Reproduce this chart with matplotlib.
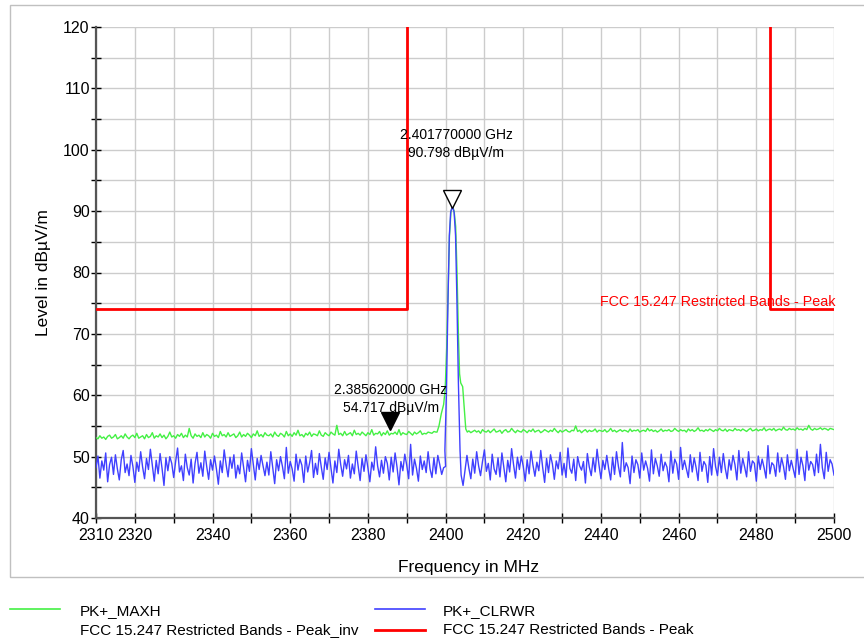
import numpy as np
import matplotlib
matplotlib.use("Agg")
import matplotlib.pyplot as plt
from matplotlib.lines import Line2D
from matplotlib.patches import Rectangle
from matplotlib import transforms

plt.rcParams['font.family'] = ['Liberation Sans', 'DejaVu Sans']

# ---- data ----
# PK+_CLRWR (blue) noise below the carrier, 2310 .. 2399.5 MHz, 0.5 MHz step
clrwr_left = [
    48.2, 50.1, 46.5, 49.3, 47.8, 50.6, 45.9, 48.7, 49.9, 47.1,
    50.3, 48.0, 46.2, 49.5, 51.0, 47.4, 48.8, 46.9, 50.2, 48.4,
    45.8, 49.1, 47.6, 50.8, 48.3, 46.4, 49.7, 47.9, 51.2, 48.6,
    46.0, 49.4, 47.2, 50.5, 48.1, 45.3, 49.8, 47.7, 50.0, 48.9,
    46.6, 49.2, 51.4, 47.5, 48.5, 46.1, 50.4, 48.2, 47.0, 49.6,
    45.7, 48.9, 50.7, 47.3, 49.0, 46.8, 50.9, 48.4, 46.3, 49.5,
    47.8, 50.1, 48.0, 45.5, 49.3, 47.4, 51.1, 48.7, 46.7, 49.9,
    48.1, 50.3, 46.5, 48.6, 47.2, 50.6, 48.3, 45.9, 49.4, 47.6,
    51.3, 48.8, 46.2, 49.7, 47.9, 50.2, 48.5, 46.9, 49.1, 47.0,
    50.8, 48.2, 45.6, 49.5, 47.7, 50.0, 48.4, 46.4, 51.5, 47.3,
    49.2, 48.0, 46.0, 50.4, 47.8, 49.6, 48.6, 45.8, 50.1, 47.5,
    49.0, 51.0, 46.6, 48.9, 47.1, 50.5, 48.3, 46.3, 49.8, 47.9,
    50.7, 48.1, 45.7, 49.3, 47.4, 51.2, 48.7, 46.8, 49.5, 48.0,
    50.2, 46.5, 48.8, 47.2, 50.9, 48.4, 46.1, 49.7, 47.6, 50.3,
    48.2, 45.9, 49.1, 47.8, 51.6, 48.5, 46.7, 49.4, 47.3, 50.0,
    48.9, 46.2, 49.9, 47.5, 50.6, 48.3, 45.4, 49.2, 47.7, 50.4,
    48.6, 46.4, 52.0, 47.0, 49.6, 48.1, 46.0, 50.1, 47.9, 49.3,
    47.4, 50.8, 48.0, 46.6, 49.8, 47.2, 50.2, 48.7, 47.1, 48.2,
    48.4,
]
# carrier of the blue trace
clrwr_peak_freq = [2399.82, 2400.2, 2400.62, 2400.97, 2401.3, 2401.77,
                   2402.2, 2402.57, 2402.92, 2403.3, 2403.72, 2404.0]
clrwr_peak_level = [51.0, 60.0, 75.5, 86.0, 89.8, 90.8,
                    89.8, 86.0, 75.5, 62.0, 51.0, 47.0]
# blue noise above the carrier, 2404.5 .. 2500 MHz, 0.5 MHz step
clrwr_right = [
    45.3, 47.8, 50.2, 48.1, 46.4, 49.6, 47.3, 50.8, 48.5, 46.9,
    49.2, 51.1, 47.6, 48.9, 46.2, 50.4, 48.0, 47.1, 49.8, 46.7,
    50.6, 48.3, 45.9, 49.4, 47.5, 51.3, 48.7, 46.5, 49.9, 47.9,
    50.1, 48.4, 46.0, 49.5, 47.2, 50.9, 48.6, 46.8, 49.1, 47.7,
    51.0, 48.2, 45.8, 49.7, 47.4, 50.3, 48.8, 46.3, 49.3, 48.0,
    50.7, 47.0, 48.9, 46.6, 51.4, 48.1, 47.3, 49.6, 46.1, 50.0,
    48.5, 47.8, 49.2, 45.7, 50.5, 48.3, 46.9, 49.8, 47.5, 51.2,
    48.6, 46.4, 49.4, 47.9, 50.2, 48.0, 46.2, 49.9, 47.1, 50.8,
    48.4, 46.7, 52.3, 47.6, 49.0, 48.2, 45.6, 50.1, 47.4, 49.5,
    48.7, 46.5, 50.6, 47.8, 49.3, 48.1, 46.0, 51.1, 47.2, 49.7,
    48.5, 46.8, 50.4, 47.7, 49.1, 48.3, 45.9, 50.9, 47.3, 49.6,
    48.8, 46.3, 51.5, 47.9, 49.4, 48.0, 46.6, 50.3, 47.5, 49.8,
    48.2, 46.1, 50.7, 47.6, 49.2, 48.6, 45.8, 50.0, 47.0, 51.3,
    48.4, 46.9, 49.9, 47.4, 50.5, 48.1, 46.4, 49.5, 47.8, 50.2,
    48.7, 46.2, 51.0, 47.3, 49.7, 48.3, 46.7, 50.8, 47.6, 49.3,
    48.9, 46.0, 50.1, 47.9, 49.6, 48.2, 46.5, 51.8, 47.2, 49.0,
    48.6, 46.8, 50.6, 47.5, 49.8, 48.4, 46.3, 50.3, 47.7, 49.4,
    48.0, 46.6, 51.2, 47.1, 49.9, 48.5, 46.1, 50.9, 47.8, 49.2,
    48.7, 46.9, 50.4, 47.4, 52.0, 48.2, 46.4, 50.7, 47.6, 49.5,
    48.8, 47.0,
]

# PK+_MAXH (green) below the carrier, 2310 .. 2397.5 MHz, 0.5 MHz step
maxh_left = [
    53.1, 52.9, 53.4, 53.0, 53.2, 52.8, 53.3, 53.5, 53.0, 53.2,
    53.6, 52.9, 53.1, 53.4, 53.0, 53.7, 53.2, 52.9, 53.3, 53.5,
    53.1, 53.8, 53.0, 53.2, 53.4, 52.9, 53.6, 53.1, 53.3, 53.9,
    53.0, 53.4, 53.2, 53.7, 53.1, 53.5, 52.9, 53.3, 54.0, 53.2,
    53.4, 53.0, 53.6, 53.3, 53.8, 53.1, 53.5, 53.2, 54.6, 53.4,
    53.0, 53.7, 53.3, 53.5, 53.1, 53.9, 53.2, 53.6, 53.4, 53.0,
    53.8, 53.3, 53.5, 53.1, 54.1, 53.4, 53.6, 53.2, 53.9, 53.3,
    53.5, 53.7, 53.1, 53.4, 54.0, 53.2, 53.6, 53.3, 53.8, 53.5,
    53.1, 53.7, 53.4, 54.2, 53.3, 53.6, 53.2, 53.9, 53.5, 53.4,
    53.7, 53.2, 54.0, 53.5, 53.3, 53.8, 53.6, 53.2, 54.1, 53.4,
    53.7, 53.3, 53.9, 53.5, 54.3, 53.4, 53.6, 53.2, 53.8, 53.5,
    54.0, 53.3, 53.7, 53.6, 53.4, 54.2, 53.5, 53.3, 53.9, 53.6,
    53.4, 54.0, 53.7, 53.5, 55.1, 53.6, 53.8, 53.4, 54.1, 53.5,
    53.7, 53.9, 53.4, 54.3, 53.6, 53.8, 53.5, 54.0, 53.7, 53.4,
    53.9, 53.6, 54.4, 53.5, 53.8, 53.7, 54.1, 53.4, 53.9, 53.6,
    54.2, 53.5, 53.8, 53.7, 54.0, 53.6, 54.4, 53.5, 53.9, 53.7,
    53.6, 54.1, 53.8, 53.5, 54.0, 53.7, 53.9, 54.2, 53.6, 53.8,
    53.7, 54.0, 53.9, 53.8, 54.1, 54.0,
]
maxh_peak_freq = [2397.8, 2398.3, 2398.9, 2399.5, 2399.9, 2400.3, 2400.7,
                  2401.0, 2401.4, 2401.77, 2402.2, 2402.6, 2402.95, 2403.3,
                  2403.6, 2403.9, 2404.4, 2404.8, 2405.2, 2405.6]
maxh_peak_level = [54.0, 55.0, 57.0, 58.5, 61.0, 68.0, 78.0,
                   86.0, 90.0, 90.8, 90.0, 87.5, 80.0, 70.0,
                   63.5, 62.0, 61.4, 58.0, 54.5, 54.0]
# green above the carrier, 2406 .. 2500 MHz, 0.5 MHz step
maxh_right = [
    54.2, 53.9, 54.1, 54.3, 54.0, 54.2, 53.8, 54.4, 54.1, 54.0,
    54.3, 53.9, 54.2, 54.5, 54.0, 54.1, 54.3, 53.8, 54.2, 54.4,
    54.0, 54.1, 54.6, 54.2, 53.9, 54.3, 54.1, 54.0, 54.4, 54.2,
    53.9, 54.3, 54.1, 54.5, 54.0, 54.2, 54.3, 53.9, 54.1, 54.4,
    54.2, 54.0, 54.3, 54.1, 54.6, 54.2, 53.9, 54.3, 54.0, 54.2,
    54.4, 54.1, 54.0, 54.3, 54.2, 55.0, 54.1, 54.3, 53.9, 54.2,
    54.4, 54.0, 54.3, 54.1, 54.2, 54.5, 54.0, 54.3, 54.2, 54.1,
    54.4, 54.0, 54.2, 54.6, 54.1, 54.3, 54.0, 54.2, 54.4, 54.1,
    54.3, 54.2, 54.0, 54.5, 54.1, 54.3, 54.2, 54.4, 54.0, 54.2,
    54.3, 54.1, 54.6, 54.2, 54.4, 54.1, 54.3, 54.0, 54.2, 54.5,
    54.1, 54.3, 54.2, 54.4, 54.1, 54.2, 54.6, 54.3, 54.1, 54.4,
    54.2, 54.3, 54.0, 54.5, 54.2, 54.4, 54.1, 54.3, 54.7, 54.2,
    54.3, 54.1, 54.4, 54.2, 54.5, 54.3, 54.1, 54.4, 54.2, 54.6,
    54.3, 54.2, 54.5, 54.1, 54.4, 54.3, 54.2, 54.6, 54.3, 54.4,
    54.2, 54.5, 54.3, 54.1, 54.4, 54.6, 54.2, 54.3, 54.5, 54.2,
    54.4, 54.3, 54.7, 54.2, 54.4, 54.5, 54.3, 54.6, 54.2, 54.4,
    54.5, 54.3, 54.8, 54.4, 54.3, 54.6, 54.4, 54.5, 54.3, 54.7,
    54.4, 54.5, 54.3, 54.6, 54.4, 55.1, 54.5, 54.3, 54.6, 54.4,
    54.5, 54.7, 54.4, 54.6, 54.5, 54.3, 54.6, 54.5, 54.4,
]

# FCC 15.247 restricted band limit (peak)
limit1_freq = [2310, 2390, 2390]
limit1_level = [74, 74, 120]
limit2_freq = [2483.5, 2483.5, 2500]
limit2_level = [120, 74, 74]

# markers
m1_freq, m1_level = 2401.77, 90.798
m2_freq, m2_level = 2385.62, 54.717

x_ticks = list(range(2310, 2501, 10))
x_labels = [str(t) if (t == 2310 or t % 20 == 0) else "" for t in x_ticks]

# ---- assemble traces ----
f_cl_left = np.linspace(2310, 2400, len(clrwr_left))
f_cl_right = np.linspace(2404.5, 2500, len(clrwr_right))
clrwr_f = np.concatenate([f_cl_left, clrwr_peak_freq, f_cl_right])
clrwr_l = np.concatenate([clrwr_left, clrwr_peak_level, clrwr_right])

f_mx_left = np.linspace(2310, 2397.5, len(maxh_left))
f_mx_right = np.linspace(2406, 2500, len(maxh_right))
maxh_f = np.concatenate([f_mx_left, maxh_peak_freq, f_mx_right])
maxh_l = np.concatenate([maxh_left, maxh_peak_level, maxh_right])

green = "#44f044"
blue = "#4040ff"

fig = plt.figure(figsize=(8.64, 6.43), dpi=100)
ax = fig.add_axes([96 / 864, 1 - 518 / 643, 738 / 864, 491 / 643])

# outer frame
fig.add_artist(Rectangle((10 / 864, 1 - 577 / 643), 1.0, 572 / 643,
                         transform=fig.transFigure, fill=False,
                         edgecolor="#c0c0c0", linewidth=1))

ax.plot(maxh_f, maxh_l, color=green, linewidth=1, zorder=3)
ax.plot(clrwr_f, clrwr_l, color=blue, linewidth=1, zorder=4)
ax.plot(limit1_freq, limit1_level, color="red", linewidth=2, zorder=5)
ax.plot(limit2_freq, limit2_level, color="red", linewidth=2, zorder=5)

ax.set_xlim(2310, 2500)
ax.set_ylim(40, 120)

ax.set_xticks(x_ticks)
ax.set_xticklabels(x_labels)
ax.set_yticks(range(40, 121, 10))
ax.set_yticks(range(45, 120, 10), minor=True)
ax.tick_params(axis="both", which="both", direction="inout", length=7,
               width=1, color="black", labelsize=11.5, pad=1)
ax.tick_params(axis="x", pad=4)

ax.grid(True, which="both", color="#cccccc", linewidth=1)
ax.set_axisbelow(True)
for s in ["top", "right"]:
    ax.spines[s].set_visible(False)
for s in ["left", "bottom"]:
    ax.spines[s].set_color("#555555")
    ax.spines[s].set_linewidth(1.6)

ax.set_xlabel("Frequency in MHz", fontsize=12.5)
ax.set_ylabel("Level in dBµV/m", fontsize=12.5)
ax.xaxis.set_label_coords(0.505, -0.086)
ax.yaxis.set_label_coords(-0.061, 0.5)

# markers
up = transforms.offset_copy(ax.transData, fig=fig, x=0, y=7, units="dots")
ax.plot([m1_freq], [m1_level], marker="v", markersize=13, markerfacecolor="white",
        markeredgecolor="black", markeredgewidth=1, transform=up, zorder=6, clip_on=False)
ax.plot([m2_freq], [m2_level], marker="v", markersize=13, color="black",
        transform=up, zorder=6, clip_on=False)
ax.annotate(f"{m1_freq / 1000:.9f} GHz\n{m1_level:.3f} dBµV/m",
            xy=(m1_freq, m1_level), xytext=(4, 46), textcoords="offset pixels",
            ha="center", va="bottom", fontsize=10, linespacing=1.35, zorder=7)
ax.annotate(f"{m2_freq / 1000:.9f} GHz\n{m2_level:.3f} dBµV/m",
            xy=(m2_freq, m2_level), xytext=(1, 13), textcoords="offset pixels",
            ha="center", va="bottom", fontsize=10, linespacing=1.35, zorder=7)

ax.text(2439.8, 75.2, "FCC 15.247 Restricted Bands - Peak", color="red",
        fontsize=10.3, ha="left", va="center", zorder=7)

# legend below the plot
def fx(px):
    return px / 864

def fy(py):
    return 1 - py / 643

fig.add_artist(Line2D([fx(10), fx(60)], [fy(609), fy(609)], color=green, linewidth=1.2))
fig.add_artist(Line2D([fx(375), fx(425)], [fy(609), fy(609)], color=blue, linewidth=1.2))
fig.add_artist(Line2D([fx(375), fx(425)], [fy(630), fy(630)], color="red", linewidth=2))
fig.text(fx(80), fy(611), "PK+_MAXH", fontsize=11, va="center")
fig.text(fx(80), fy(630), "FCC 15.247 Restricted Bands - Peak_inv", fontsize=11, va="center")
fig.text(fx(443), fy(611), "PK+_CLRWR", fontsize=11, va="center")
fig.text(fx(443), fy(630), "FCC 15.247 Restricted Bands - Peak", fontsize=11, va="center")

fig.savefig("out.png", dpi=100)
